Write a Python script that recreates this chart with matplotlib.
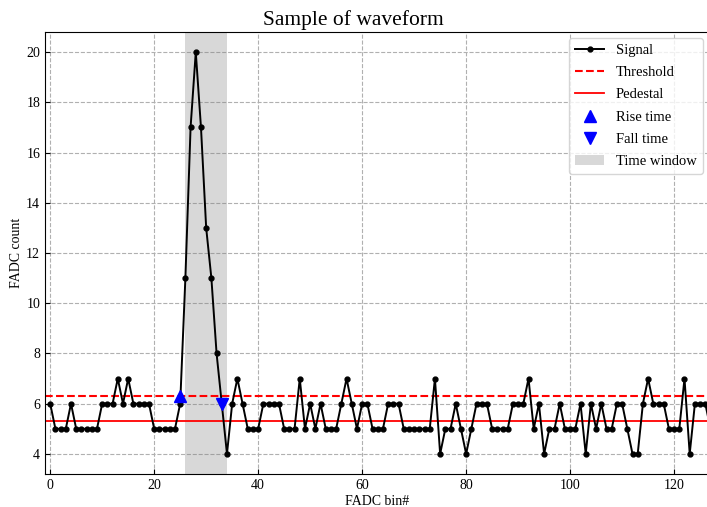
import numpy as np
import matplotlib
matplotlib.use('Agg')
import matplotlib.pyplot as plt

#========================== data ===========================#
signal = [6, 5, 5, 5, 6, 5, 5, 5, 5, 5, 6, 6, 6, 7, 6, 7, 6, 6, 6, 6, 5, 5, 5, 5, 5, 6,
          11, 17, 20, 17, 13, 11, 8, 6,
          4, 6, 7, 6, 5, 5, 5, 6, 6, 6, 6, 5, 5, 5, 7, 5, 6, 5, 6, 5, 5, 5, 6, 7, 6, 5, 6, 6,
          5, 5, 5, 6, 6, 6, 5, 5, 5, 5, 5, 5, 7, 4,
          5, 5, 6, 5, 4, 5, 6, 6, 6, 5, 5, 5, 5, 6, 6, 6, 7, 5, 6, 4, 5, 5, 6, 5, 5,
          5, 6, 4, 6, 5, 6, 5, 5, 6, 6, 5, 4, 4, 6, 7, 6, 6, 6, 5, 5, 5, 7, 4, 6, 6, 6,
          5]
bins = np.arange(len(signal))
threshold = 6.3
pedestal = 5.33
rise = (25.06, 6.3)
fall = (33, 6.0)
window = (26, 34)

#========================== style ===========================#
plt.rcParams['font.family'] = 'serif'
plt.rcParams['font.serif'] = ['Liberation Serif', 'DejaVu Serif']
plt.rcParams['font.size'] = 10

fig = plt.figure(figsize=(7.07, 5.07), dpi=100)
ax = fig.add_axes([45/707, 1 - 474/507, 1 - 45/707 + 0.002, (474 - 32)/507])

#========================== plot ===========================#
ax.plot(bins, signal, 'k-', marker='o', markersize=3.5, linewidth=1.4, label='Signal', zorder=3)
ax.axhline(threshold, color='red', linestyle='--', linewidth=1.5, label='Threshold', zorder=2)
ax.axhline(pedestal, color='red', linestyle='-', linewidth=1.3, label='Pedestal', zorder=2)
ax.plot(rise[0], rise[1], '^', color='blue', markersize=8, linestyle='none', label='Rise time', zorder=4)
ax.plot(fall[0], fall[1], 'v', color='blue', markersize=8, linestyle='none', label='Fall time', zorder=4)
ax.axvspan(window[0], window[1], color='gray', alpha=0.3, linewidth=0, label='Time window', zorder=1)

ax.set_xlim(-1, 126.6)
ax.set_ylim(3.2, 20.8)
ax.set_xticks(np.arange(0, 121, 20))
ax.set_yticks(np.arange(4, 21, 2))
ax.grid(True, linestyle='--', color='#b0b0b0', linewidth=0.8)
ax.set_axisbelow(True)
ax.tick_params(direction='in', labelsize=10)
ax.spines['right'].set_visible(False)

ax.set_xlabel('FADC bin#', labelpad=2)
ax.set_ylabel('FADC count', labelpad=2)
fig.suptitle('Sample of waveform', x=0.5, y=0.98, fontsize=15.5)
ax.legend(loc='upper right', fontsize=10.5, borderaxespad=0.4, labelspacing=0.62)

#========================== save ===========================#
fig.savefig('out.png', dpi=100)
plt.close()
